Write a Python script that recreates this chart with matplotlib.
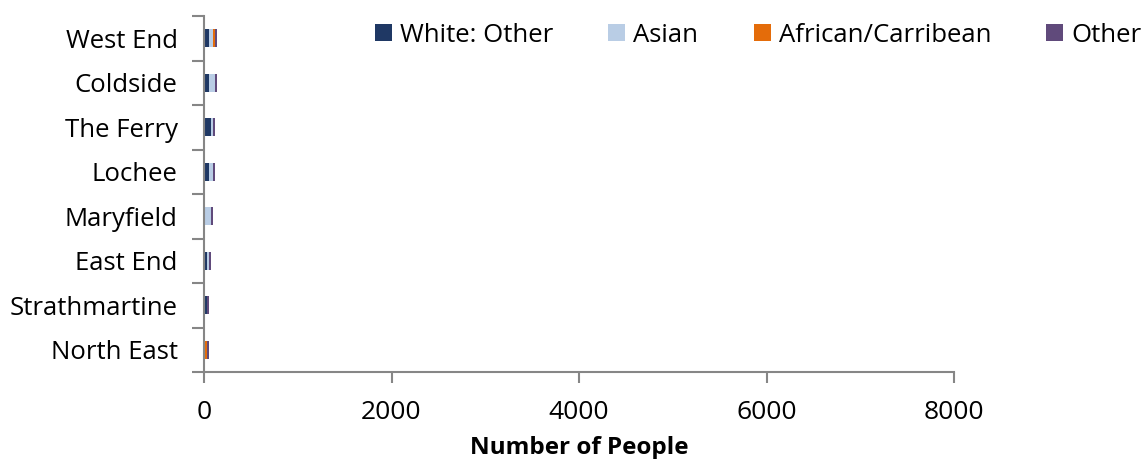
import matplotlib.pyplot as plt
import numpy as np

plt.rcParams['font.family'] = ['Open Sans', 'DejaVu Sans']

areas = ['West End', 'Coldside', 'The Ferry', 'Lochee', 'Maryfield',
         'East End', 'Strathmartine', 'North East']
white_other = [57, 57, 78, 57, 11, 35, 35, 11]
asian = [43, 64, 21, 43, 64, 21, 0, 0]
african = [21, 0, 0, 0, 0, 0, 0, 21]
other = [21, 21, 21, 21, 21, 21, 21, 21]

series = [('White: Other', white_other, '#1F3864'),
          ('Asian', asian, '#B9CDE5'),
          ('African/Carribean', african, '#E46C0A'),
          ('Other', other, '#604A7B')]

fig = plt.figure(figsize=(11.45, 4.59), dpi=100)
ax = fig.add_axes([204 / 1145, 1 - 372 / 459, 750 / 1145, 356 / 459])

y = np.arange(len(areas))
left = np.zeros(len(areas))
for name, vals, col in series:
    ax.barh(y, vals, left=left, height=0.4, color=col, label=name)
    left += np.array(vals)

ax.set_xlim(0, 8000)
ax.set_ylim(len(areas) - 0.5, -0.5)
ax.set_xticks([0, 2000, 4000, 6000, 8000])
ax.set_yticks(y)
ax.set_yticklabels(areas)
ax.set_yticks(np.arange(len(areas) + 1) - 0.5, minor=True)

grey = '#868686'
for side in ['top', 'right']:
    ax.spines[side].set_visible(False)
for side in ['left', 'bottom']:
    ax.spines[side].set_color(grey)
    ax.spines[side].set_linewidth(1.5)

ax.tick_params(axis='y', which='major', length=0, pad=19, labelsize=18.5)
ax.tick_params(axis='y', which='minor', length=9, width=1.5, color=grey)
ax.tick_params(axis='x', length=8, width=1.5, color=grey, pad=12, labelsize=19)

ax.set_xlabel('Number of People', fontsize=17.5, fontweight='bold', labelpad=8)

fig.legend(loc='center left', bbox_to_anchor=(375 / 1145, 1 - 35 / 459), ncol=4,
           frameon=False, fontsize=18.5, handlelength=0.66, handleheight=0.66,
           handletextpad=0.31, columnspacing=2.15, borderaxespad=0, borderpad=0)

fig.savefig('out.png', dpi=100)
